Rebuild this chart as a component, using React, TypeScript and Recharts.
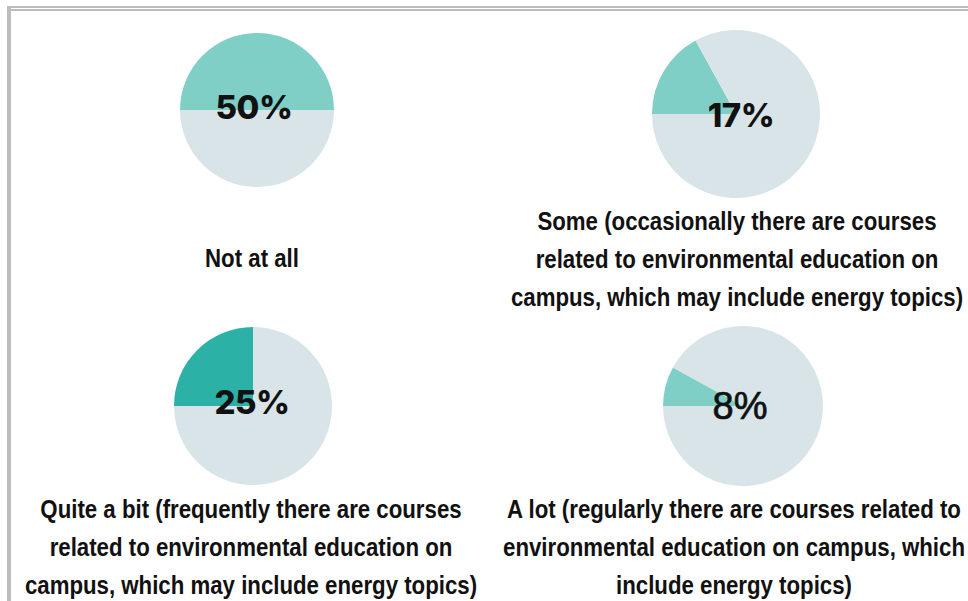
import React from "react";
import { PieChart, Pie, Cell } from "recharts";

// survey answers, one pie per answer
const categories = [
  "Not at all",
  "Some (occasionally there are courses related to environmental education on campus, which may include energy topics)",
  "Quite a bit (frequently there are courses related to environmental education on campus, which may include energy topics)",
  "A lot (regularly there are courses related to environmental education on campus, which include energy topics)",
];
const shares = [50, 17, 25, 8];
const rest = [50, 83, 75, 92];
const shareLabels = ["50%", "17%", "25%", "8%"];

// wrapped caption lines as they appear under each pie
const captionLines = [
  ["Not at all"],
  [
    "Some (occasionally there are courses",
    "related to environmental education on",
    "campus, which may include energy topics)",
  ],
  [
    "Quite a bit (frequently there are courses",
    "related to environmental education on",
    "campus, which may include energy topics)",
  ],
  [
    "A lot (regularly there are courses related to",
    "environmental education on campus, which",
    "include energy topics)",
  ],
];

const SHARE_COLORS = ["#7fcfc7", "#7fcfc7", "#2bb1a6", "#7fcfc7"];
const REST_COLOR = "#d9e4e8";

const layout = [
  { cx: 252, cy: 105, r: 77, lx: 254, ly: 107, cap: { x: 252, y: 258 } },
  { cx: 731, cy: 109, r: 84, lx: 741, ly: 115, cap: { x: 737, y: 221 } },
  { cx: 248, cy: 401, r: 79, lx: 252, ly: 402, cap: { x: 251, y: 509 } },
  { cx: 738, cy: 401, r: 80, lx: 740, ly: 406, cap: { x: 734, y: 509 } },
];

// no narrow font installed, so squeeze the regular one
const captionFont = "'Liberation Sans', Arial, sans-serif";

export default function App() {
  return (
    <div
      style={{
        position: "absolute",
        left: 0,
        top: 0,
        width: 968,
        height: 601,
        background: "#fff",
        overflow: "hidden",
      }}
    >
      {/* frame of the original screenshot */}
      <div style={{ position: "absolute", left: 7, top: 6, width: 961, height: 2, background: "#bdbdbd" }} />
      <div style={{ position: "absolute", left: 11, top: 9, width: 957, height: 2, background: "#bdbdbd" }} />
      <div style={{ position: "absolute", left: 7, top: 6, width: 4, height: 595, background: "#bdbdbd" }} />

      <div style={{ position: "absolute", left: 0, top: 0 }}>
        <PieChart width={968} height={601}>
          {categories.map((cat, i) => (
            <Pie
              key={cat}
              data={[
                { name: cat, value: shares[i] },
                { name: "other", value: rest[i] },
              ]}
              dataKey="value"
              cx={layout[i].cx}
              cy={layout[i].cy}
              outerRadius={layout[i].r}
              startAngle={180}
              endAngle={-180}
              stroke="none"
              isAnimationActive={false}
            >
              <Cell fill={SHARE_COLORS[i]} />
              <Cell fill={REST_COLOR} />
            </Pie>
          ))}
        </PieChart>
      </div>

      {shareLabels.map((t, i) => (
        <div
          key={t}
          style={{
            position: "absolute",
            left: layout[i].lx - 80,
            top: layout[i].ly - 22,
            width: 160,
            height: 44,
            lineHeight: "44px",
            textAlign: "center",
            fontFamily: i === 3 ? "'Liberation Sans', Arial, sans-serif" : "Inter, 'Noto Sans', sans-serif",
            fontWeight: i === 3 ? 400 : 800,
            fontSize: i === 3 ? 38 : 33,
            letterSpacing: i === 3 ? 0 : -0.5,
            WebkitTextStroke: i === 3 ? "0.7px #111" : undefined,
            color: "#111",
          }}
        >
          {t}
        </div>
      ))}

      {captionLines.map((lines, i) => (
        <div
          key={i}
          style={{
            position: "absolute",
            left: layout[i].cap.x - 300,
            top: layout[i].cap.y - 19,
            width: 600,
            textAlign: "center",
            fontFamily: captionFont,
            fontWeight: 700,
            fontSize: 26,
            lineHeight: "38px",
            color: "#111",
            whiteSpace: "nowrap",
          }}
        >
          {lines.map((l) => (
            <div key={l} style={{ transform: "scaleX(0.855)", transformOrigin: "center" }}>
              {l}
            </div>
          ))}
        </div>
      ))}
    </div>
  );
}
